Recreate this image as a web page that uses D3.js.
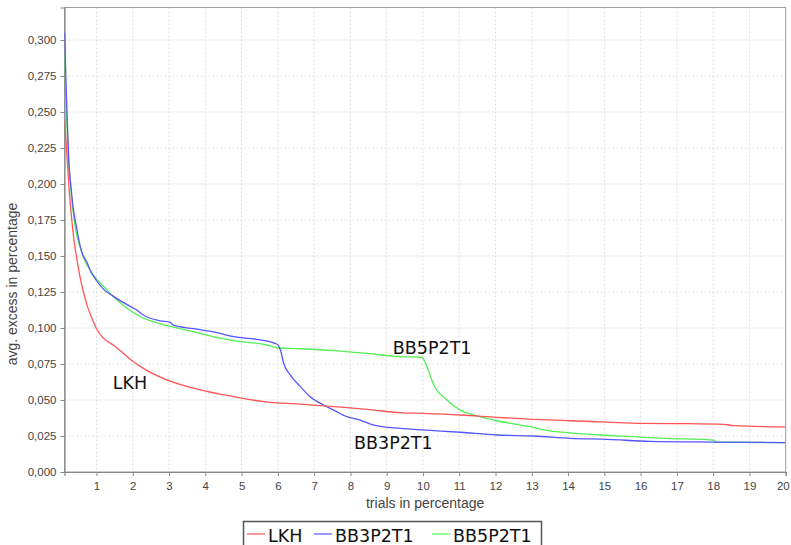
<!DOCTYPE html>
<html>
<head>
<meta charset="utf-8">
<script src="https://cdn.jsdelivr.net/npm/d3@7"></script>
<style>
  body { margin: 0; background: #fff; }
  svg { display: block; }
</style>
</head>
<body>
<svg id="chart" width="791" height="545"></svg>
<script>
'use strict';

// series names and colours (JFreeChart defaults)
const seriesNames = ["LKH", "BB3P2T1", "BB5P2T1"];
const seriesColors = ["#ff5555", "#5555ff", "#55ee55"];

// [trials %, avg. excess %]
const lkh = [
  [0.12, 0.245], [0.18, 0.222], [0.24, 0.198], [0.3, 0.18], [0.37, 0.163], [0.45, 0.149],
  [0.55, 0.135], [0.64, 0.125], [0.75, 0.115], [0.87, 0.107], [1.0, 0.0995], [1.19, 0.093],
  [1.47, 0.088], [1.74, 0.0824], [2.02, 0.0766], [2.29, 0.072], [2.94, 0.064],
  [3.86, 0.057], [4.78, 0.0523], [5.7, 0.0486], [6.62, 0.0472], [7.54, 0.0454],
  [8.46, 0.0435], [9.38, 0.0412], [10, 0.0407], [11.03, 0.0396], [12.04, 0.038],
  [13.05, 0.0366], [14.06, 0.0356], [15.08, 0.0347], [15.99, 0.0338], [17.0, 0.0336],
  [18.3, 0.0331], [18.57, 0.0322], [20, 0.0313]
];
const bb3 = [
  [0.12, 0.305], [0.16, 0.27], [0.2, 0.24], [0.24, 0.215], [0.29, 0.2], [0.35, 0.185],
  [0.45, 0.17], [0.55, 0.157], [0.62, 0.151], [0.73, 0.146], [0.85, 0.139], [1.0, 0.133],
  [1.19, 0.127], [1.47, 0.122], [1.93, 0.115], [2.11, 0.1125], [2.29, 0.109], [2.75, 0.105],
  [3.03, 0.104], [3.12, 0.102], [3.67, 0.0995], [4.32, 0.0968], [4.78, 0.094], [5.42, 0.0921],
  [5.98, 0.0887], [6.07, 0.0847], [6.16, 0.0755], [6.34, 0.0674], [6.62, 0.0593],
  [6.89, 0.0523], [7.26, 0.0465], [7.54, 0.043], [7.9, 0.0384], [8.27, 0.0361],
  [8.64, 0.0326], [9.38, 0.0303], [10, 0.0292], [11.03, 0.0276], [12.04, 0.0257],
  [13.05, 0.025], [14.06, 0.0234], [15.08, 0.0227], [16.27, 0.0213], [18, 0.0208], [20, 0.0204]
];
const bb5 = [
  [0.12, 0.29], [0.17, 0.25], [0.22, 0.22], [0.28, 0.2], [0.35, 0.182], [0.45, 0.165],
  [0.55, 0.156], [0.64, 0.149], [0.8, 0.141], [1.0, 0.134], [1.19, 0.129], [1.5, 0.121],
  [2.2, 0.108], [2.75, 0.103], [3.67, 0.0975], [4.4, 0.093], [4.78, 0.0912], [5.7, 0.0882],
  [5.98, 0.0863], [6.62, 0.0856], [7.54, 0.0843], [8.46, 0.0824], [9.38, 0.0801],
  [9.97, 0.0797], [10.11, 0.0731], [10.3, 0.0604], [10.66, 0.05], [11.03, 0.043],
  [11.4, 0.0396], [12.04, 0.0356], [12.69, 0.0326], [13.05, 0.031], [13.33, 0.0292],
  [13.98, 0.0273], [14.9, 0.0257], [15.8, 0.0245], [16.7, 0.0234], [18.0, 0.0222],
  [18.1, 0.0208], [20, 0.0204]
];

const xTicks = d3.range(1, 21);
const yTicks = d3.range(0, 0.3001, 0.025);

// text annotations in data coordinates
const labels = [
  {text: "LKH", x: 1.45, y: 0.0573},
  {text: "BB5P2T1", x: 9.17, y: 0.0819},
  {text: "BB3P2T1", x: 8.1, y: 0.016}
];

const svg = d3.select("#chart");
const margin = {left: 64.5, top: 7.5, right: 785.7, bottom: 472};

const x = d3.scaleLinear().domain([0.118, 20]).range([margin.left, margin.right]);
const y = d3.scaleLinear().domain([0, 0.3226]).range([margin.bottom, margin.top]);

svg.append("defs").append("clipPath").attr("id", "clip")
  .append("rect")
  .attr("x", margin.left).attr("y", margin.top)
  .attr("width", margin.right - margin.left)
  .attr("height", margin.bottom - margin.top);

// grid
const grid = svg.append("g").attr("stroke", "#d4d4d4").attr("stroke-width", 0.8)
  .attr("stroke-dasharray", "2,2");
grid.selectAll(".vx").data(xTicks).enter().append("line")
  .attr("x1", d => x(d)).attr("x2", d => x(d))
  .attr("y1", margin.top).attr("y2", margin.bottom);
grid.selectAll(".hy").data(yTicks).enter().append("line")
  .attr("y1", d => y(d)).attr("y2", d => y(d))
  .attr("x1", margin.left).attr("x2", margin.right);

// plot outline
svg.append("rect")
  .attr("x", margin.left).attr("y", margin.top)
  .attr("width", margin.right - margin.left)
  .attr("height", margin.bottom - margin.top)
  .attr("fill", "none").attr("stroke", "#a0a0a0").attr("stroke-width", 1);

const fmt = d => d3.format(".3f")(d).replace(".", ",");

// axes
const xAxis = svg.append("g")
  .attr("transform", "translate(0," + margin.bottom + ")")
  .call(d3.axisBottom(x).tickValues(xTicks).tickSize(4).tickPadding(6).tickFormat(d3.format("d")));
const yAxis = svg.append("g")
  .attr("transform", "translate(" + margin.left + ",0)")
  .call(d3.axisLeft(y).tickValues(yTicks).tickSize(4).tickPadding(4).tickFormat(fmt));

[xAxis, yAxis].forEach(function (a) {
  a.select(".domain").attr("stroke", "#888").attr("stroke-width", 1.2);
  a.selectAll(".tick line").attr("stroke", "#888");
  a.selectAll("text")
    .attr("fill", "#444")
    .style("font-family", "'Liberation Sans', Arial, sans-serif")
    .style("font-size", "11.5px");
});
// last x label sits at the window edge: keep it inside
xAxis.selectAll(".tick text").filter(d => d === 20)
  .attr("text-anchor", "end").attr("dx", "3.5");

// axis titles
svg.append("text")
  .attr("x", x(10.06)).attr("y", 508)
  .attr("text-anchor", "middle")
  .attr("fill", "#444")
  .style("font-family", "'Liberation Sans', Arial, sans-serif")
  .style("font-size", "14px")
  .text("trials in percentage");

svg.append("text")
  .attr("transform", "translate(17,284) rotate(-90)")
  .attr("text-anchor", "middle")
  .attr("fill", "#444")
  .style("font-family", "'Liberation Sans', Arial, sans-serif")
  .style("font-size", "14px")
  .text("avg. excess in percentage");

// lines; first series drawn last, on top
const line = d3.line().curve(d3.curveMonotoneX).x(d => x(d[0])).y(d => y(d[1]));
const allSeries = [lkh, bb3, bb5];
const lines = svg.append("g").attr("clip-path", "url(#clip)");
for (let i = allSeries.length - 1; i >= 0; i--) {
  lines.append("path")
    .datum(allSeries[i])
    .attr("d", line)
    .attr("fill", "none")
    .attr("stroke", seriesColors[i])
    .attr("stroke-width", 1.3)
    .attr("stroke-linejoin", "round");
}

// annotations
svg.selectAll(".anno").data(labels).enter().append("text")
  .attr("x", d => x(d.x)).attr("y", d => y(d.y))
  .attr("fill", "#111")
  .style("font-family", "'DejaVu Sans', Verdana, sans-serif")
  .style("font-size", "17.5px")
  .text(d => d.text);

// legend
const legend = svg.append("g");
legend.append("rect")
  .attr("x", 243.5).attr("y", 521.5).attr("width", 298).attr("height", 30)
  .attr("fill", "#fff").attr("stroke", "#555").attr("stroke-width", 1.5);
const legendX = [247, 314, 432];
seriesNames.forEach(function (name, i) {
  legend.append("line")
    .attr("x1", legendX[i]).attr("x2", legendX[i] + 18)
    .attr("y1", 534).attr("y2", 534)
    .attr("stroke", seriesColors[i]).attr("stroke-width", 1.2);
  legend.append("text")
    .attr("x", legendX[i] + 21).attr("y", 542)
    .attr("fill", "#111")
    .style("font-family", "'DejaVu Sans', Verdana, sans-serif")
    .style("font-size", "17.5px")
    .text(name);
});
</script>
</body>
</html>
